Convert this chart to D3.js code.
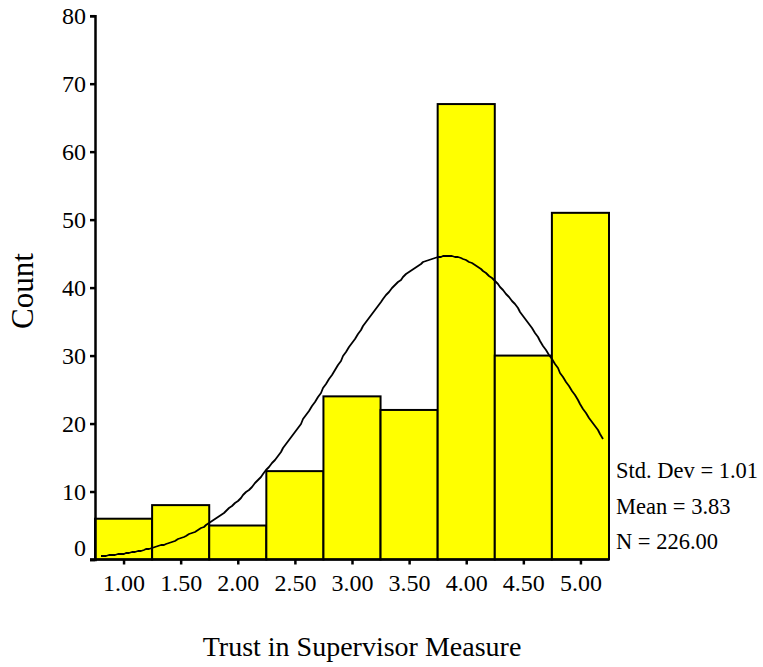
<!DOCTYPE html>
<html>
<head>
<meta charset="utf-8">
<script src="https://cdn.jsdelivr.net/npm/d3@7"></script>
<style>
  html, body { margin: 0; padding: 0; background: #fff; }
  svg text { font-family: "Liberation Serif", "Times New Roman", serif; fill: #000; }
</style>
</head>
<body>
<svg id="chart" width="763" height="667"></svg>
<script>
// Histogram bins (bin centres) and their counts
const binCenters = [1.00, 1.50, 2.00, 2.50, 3.00, 3.50, 4.00, 4.50, 5.00];
const counts     = [6, 8, 5, 13, 24, 22, 67, 30, 51];
const binWidth = 0.5;

// Y axis ticks and summary statistics
const yTicks = [0, 10, 20, 30, 40, 50, 60, 70, 80];
const statStdDev = 1.01;
const statMean = 3.83;
const statN = 226;
const statLabels = ["Std. Dev = 1.01", "Mean = 3.83", "N = 226.00"];

const svg = d3.select("#chart");

const x = d3.scaleLinear().domain([0.75, 5.25]).range([95, 609]);
const y = d3.scaleLinear().domain([0, 80]).range([559.5, 15.7]);

// Bars
svg.append("g").selectAll("rect")
  .data(binCenters.map((c, i) => ({ c, v: counts[i] })))
  .join("rect")
  .attr("x", d => x(d.c - binWidth / 2))
  .attr("y", d => y(d.v))
  .attr("width", d => x(d.c + binWidth / 2) - x(d.c - binWidth / 2))
  .attr("height", d => y(0) - y(d.v))
  .attr("fill", "#ffff00")
  .attr("stroke", "#000")
  .attr("stroke-width", 2);

// Fitted normal curve scaled to counts per bin, snapped to whole pixels
const curveX = d3.range(0.8, 5.2001, 0.025);
const dens = v => statN * binWidth / (statStdDev * Math.sqrt(2 * Math.PI)) *
  Math.exp(-0.5 * Math.pow((v - statMean) / statStdDev, 2));
svg.append("path")
  .attr("d", d3.line().x(v => Math.round(x(v))).y(v => Math.round(y(dens(v))))(curveX))
  .attr("fill", "none")
  .attr("stroke", "#000")
  .attr("stroke-width", 1.8)
  .attr("stroke-linejoin", "round");

// Y axis
const yAxis = svg.append("g")
  .attr("transform", "translate(95,0)")
  .call(d3.axisLeft(y).tickValues(yTicks).tickSize(5).tickPadding(4).tickFormat(d3.format("d")));
yAxis.select(".domain").attr("stroke-width", 2.5);
yAxis.selectAll(".tick line").attr("stroke-width", 2.5);
yAxis.selectAll("text")
  .style("font-size", "24px")
  .attr("dy", d => d === 0 ? "-0.18em" : "0.34em");

// X axis
const xAxis = svg.append("g")
  .attr("transform", "translate(0,559.5)")
  .call(d3.axisBottom(x).tickValues(binCenters).tickSize(5).tickPadding(9).tickFormat(d3.format(".2f")));
xAxis.select(".domain").attr("d", `M${x(0.75) - 5},0H${x(5.25)}`).attr("stroke-width", 2.5);
xAxis.selectAll(".tick line").attr("stroke-width", 2.5);
xAxis.selectAll("text").style("font-size", "24px");

// Axis titles
svg.append("text")
  .attr("transform", "translate(33,291) rotate(-90)")
  .attr("text-anchor", "middle")
  .style("font-size", "31px")
  .text("Count");

svg.append("text")
  .attr("x", 362)
  .attr("y", 656)
  .attr("text-anchor", "middle")
  .style("font-size", "28px")
  .text("Trust in Supervisor Measure");

// Summary statistics
svg.append("g").selectAll("text")
  .data(statLabels)
  .join("text")
  .attr("x", 616)
  .attr("y", (d, i) => 478 + i * 35.5)
  .style("font-size", "22.5px")
  .text(d => d);
</script>
</body>
</html>
